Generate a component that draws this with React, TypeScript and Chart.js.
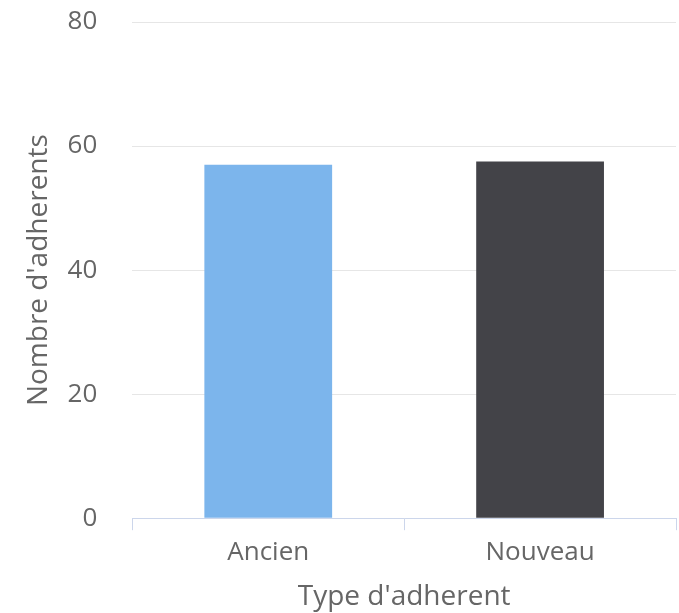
import React, { useEffect, useRef } from "react";
import { Chart, registerables } from "chart.js";

Chart.register(...registerables);

const categories: string[] = ["Ancien", "Nouveau"];
const values: number[] = [57, 57.5];
const barColors: string[] = ["#7cb5ec", "#434348"];
const yTicks: number[] = [0, 20, 40, 60, 80];
const xTitle = "Type d'adherent";
const yTitle = "Nombre d'adherents";

export default function App() {
  const ref = useRef<HTMLCanvasElement | null>(null);

  useEffect(() => {
    if (!ref.current) return;
    const font = "'Open Sans', 'DejaVu Sans', sans-serif";
    const chart = new Chart(ref.current, {
      type: "bar",
      data: {
        labels: categories,
        datasets: [
          {
            label: yTitle,
            data: values,
            backgroundColor: barColors,
            borderWidth: 0,
            categoryPercentage: 1,
            barPercentage: 0.47,
          },
        ],
      },
      options: {
        animation: false,
        responsive: false,
        maintainAspectRatio: false,
        layout: { padding: { top: 22, left: 22, right: 3, bottom: 0 } },
        plugins: {
          legend: { display: false },
          tooltip: { enabled: false },
          title: { display: false },
        },
        scales: {
          x: {
            grid: {
              display: true,
              drawOnChartArea: false,
              drawTicks: true,
              tickLength: 12,
              offset: true,
              color: "#ccd6eb",
            },
            border: { display: true, color: "#ccd6eb", width: 1 },
            ticks: {
              color: "#666666",
              font: { family: font, size: 26 },
              padding: 7,
            },
            title: {
              display: true,
              text: xTitle,
              color: "#666666",
              font: { family: font, size: 28, lineHeight: 1.0 },
              padding: { top: 7.6, bottom: 2 },
            },
          },
          y: {
            min: 0,
            max: 80,
            afterBuildTicks: (axis: any) => {
              axis.ticks = yTicks.map((v) => ({ value: v }));
            },
            grid: {
              color: "#e6e6e6",
              drawTicks: true,
              tickLength: 32,
              tickColor: "rgba(0,0,0,0)",
            },
            border: { display: false },
            ticks: {
              color: "#666666",
              font: { family: font, size: 26 },
              padding: 3,
            },
            title: {
              display: true,
              text: yTitle,
              color: "#666666",
              font: { family: font, size: 28 },
              padding: { top: 0, bottom: 9 },
            },
          },
        },
      },
    });
    return () => chart.destroy();
  }, []);

  return (
    <div
      style={{
        position: "fixed",
        left: 0,
        top: 0,
        width: 679,
        height: 613,
        background: "#ffffff",
      }}
    >
      <canvas ref={ref} width={679} height={613} style={{ width: 679, height: 613, display: "block" }} />
    </div>
  );
}
